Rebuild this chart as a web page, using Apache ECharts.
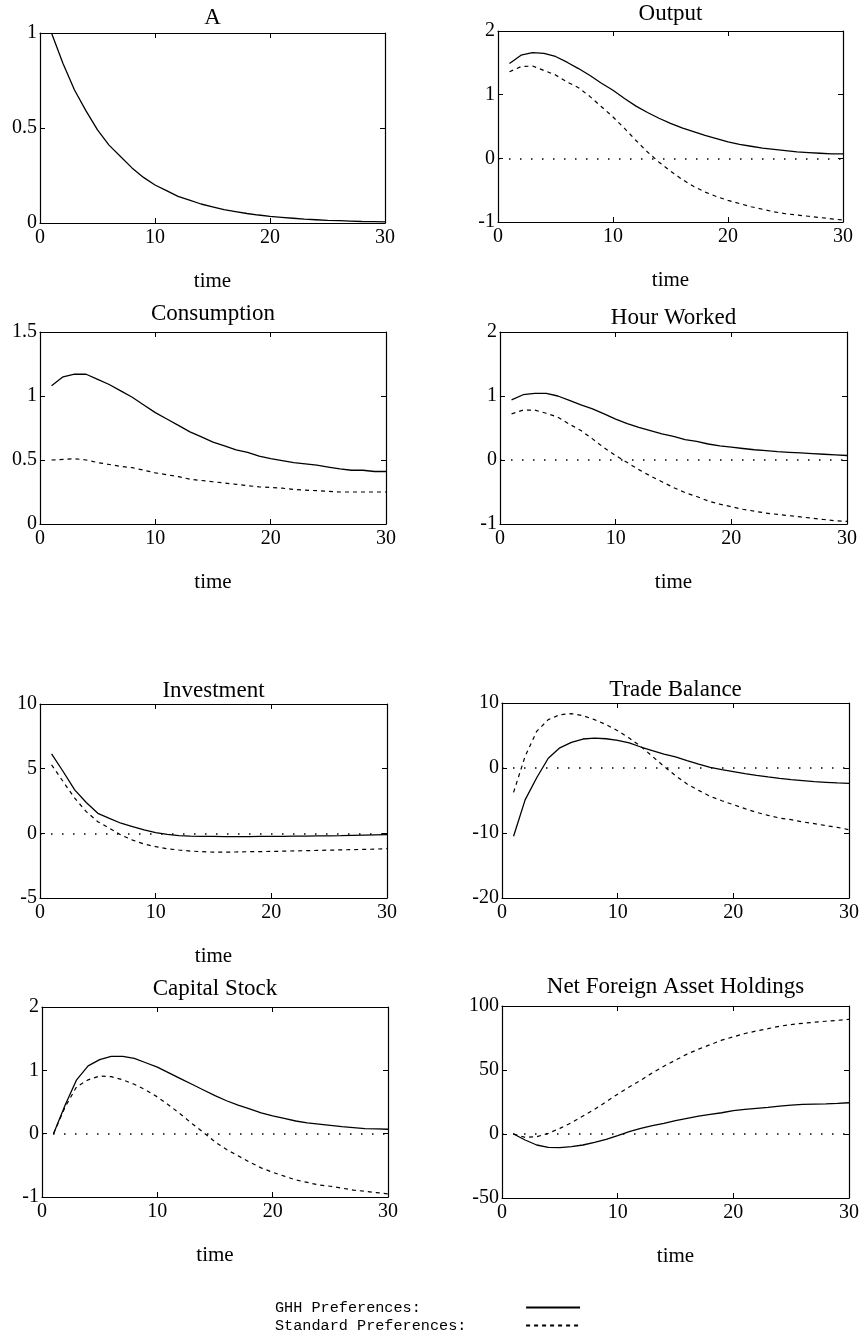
<!DOCTYPE html>
<html>
<head>
<meta charset="utf-8">
<script src="https://cdn.jsdelivr.net/npm/echarts@6/dist/echarts.min.js"></script>
<style>
  html, body { margin: 0; background: #fff; }
  #chart { width: 865px; height: 1340px; }
</style>
</head>
<body>
<div id="chart"></div>
<script>
// time periods 1..30
var times = [1, 2, 3, 4, 5, 6, 7, 8, 9, 10, 11, 12, 13, 14, 15, 16, 17, 18, 19, 20, 21, 22, 23, 24, 25, 26, 27, 28, 29, 30];

var aGhh = [1.00, 0.84, 0.70, 0.59, 0.49, 0.41, 0.35, 0.29, 0.24, 0.20, 0.17, 0.14, 0.12, 0.10, 0.085, 0.07, 0.06, 0.05, 0.042, 0.035, 0.03, 0.025, 0.02, 0.017, 0.014, 0.012, 0.01, 0.008, 0.007, 0.006];

var outputGhh = [1.49, 1.62, 1.66, 1.65, 1.60, 1.51, 1.41, 1.30, 1.18, 1.07, 0.94, 0.82, 0.72, 0.63, 0.55, 0.48, 0.42, 0.36, 0.31, 0.26, 0.22, 0.19, 0.16, 0.14, 0.12, 0.10, 0.09, 0.08, 0.07, 0.07];
var outputStd = [1.36, 1.44, 1.45, 1.38, 1.31, 1.20, 1.11, 0.97, 0.81, 0.65, 0.47, 0.28, 0.10, -0.06, -0.20, -0.33, -0.44, -0.53, -0.60, -0.66, -0.71, -0.76, -0.80, -0.84, -0.87, -0.89, -0.91, -0.93, -0.95, -0.97];

var consGhh = [1.08, 1.15, 1.17, 1.17, 1.13, 1.09, 1.04, 0.99, 0.93, 0.87, 0.82, 0.77, 0.72, 0.68, 0.64, 0.61, 0.58, 0.56, 0.53, 0.51, 0.495, 0.48, 0.47, 0.46, 0.445, 0.43, 0.42, 0.42, 0.41, 0.41];
var consStd = [0.50, 0.505, 0.51, 0.50, 0.48, 0.465, 0.45, 0.44, 0.42, 0.40, 0.385, 0.37, 0.35, 0.34, 0.33, 0.32, 0.31, 0.30, 0.29, 0.285, 0.28, 0.27, 0.265, 0.26, 0.255, 0.25, 0.25, 0.25, 0.25, 0.25];

var hoursGhh = [0.94, 1.02, 1.04, 1.04, 1.00, 0.93, 0.86, 0.80, 0.72, 0.64, 0.57, 0.51, 0.46, 0.41, 0.37, 0.32, 0.29, 0.25, 0.22, 0.20, 0.18, 0.16, 0.145, 0.13, 0.12, 0.11, 0.10, 0.09, 0.08, 0.07];
var hoursStd = [0.72, 0.78, 0.78, 0.73, 0.67, 0.56, 0.46, 0.33, 0.19, 0.07, -0.04, -0.15, -0.25, -0.34, -0.43, -0.51, -0.57, -0.64, -0.69, -0.73, -0.77, -0.80, -0.83, -0.85, -0.87, -0.89, -0.91, -0.93, -0.95, -0.96];

var invGhh = [6.15, 4.78, 3.36, 2.38, 1.55, 1.16, 0.78, 0.52, 0.26, 0.05, -0.08, -0.18, -0.21, -0.23, -0.24, -0.25, -0.25, -0.25, -0.24, -0.24, -0.23, -0.22, -0.21, -0.20, -0.19, -0.18, -0.16, -0.14, -0.12, -0.10];
var invStd = [5.3, 4.0, 2.72, 1.68, 0.9, 0.39, -0.13, -0.52, -0.83, -1.03, -1.19, -1.29, -1.37, -1.42, -1.45, -1.45, -1.44, -1.42, -1.41, -1.40, -1.38, -1.36, -1.34, -1.32, -1.30, -1.28, -1.26, -1.24, -1.22, -1.19];

var tradeGhh = [-10.5, -4.9, -1.5, 1.5, 3.1, 3.95, 4.46, 4.6, 4.5, 4.26, 3.85, 3.23, 2.67, 2.15, 1.7, 1.13, 0.6, 0.1, -0.26, -0.56, -0.87, -1.13, -1.38, -1.6, -1.8, -1.95, -2.1, -2.2, -2.3, -2.36];
var tradeStd = [-3.74, 1.8, 5.64, 7.44, 8.2, 8.36, 8.05, 7.44, 6.67, 5.74, 4.6, 3.33, 1.8, 0.26, -1.18, -2.46, -3.44, -4.36, -5.03, -5.64, -6.26, -6.82, -7.28, -7.7, -7.95, -8.3, -8.56, -8.87, -9.13, -9.49];

var capGhh = [0, 0.45, 0.85, 1.07, 1.17, 1.22, 1.22, 1.19, 1.12, 1.05, 0.96, 0.87, 0.78, 0.69, 0.6, 0.52, 0.45, 0.39, 0.33, 0.28, 0.24, 0.2, 0.17, 0.15, 0.13, 0.11, 0.095, 0.08, 0.075, 0.07];
var capStd = [0, 0.42, 0.74, 0.85, 0.91, 0.9, 0.85, 0.78, 0.69, 0.58, 0.45, 0.31, 0.16, 0.02, -0.13, -0.25, -0.35, -0.45, -0.54, -0.61, -0.67, -0.73, -0.77, -0.81, -0.83, -0.86, -0.89, -0.91, -0.93, -0.95];

var nfaGhh = [0, -4.7, -8.6, -10.4, -10.6, -9.9, -8.6, -6.5, -4.2, -1.3, 1.8, 4.4, 6.5, 8.3, 10.4, 12.2, 14, 15.3, 16.6, 18.2, 19.2, 20, 20.8, 21.8, 22.6, 23.1, 23.4, 23.6, 23.9, 24.4];
var nfaStd = [0, -2.6, -2.1, 0.5, 4.4, 8.8, 14, 19.2, 25.2, 31.1, 36.8, 42, 47.8, 53, 57.7, 62.4, 66.3, 69.8, 73.3, 75.9, 78.5, 80.5, 82.3, 84.2, 85.5, 86.5, 87.3, 88.1, 88.8, 89.6];

var seriesNames = ['GHH Preferences', 'Standard Preferences'];

// one entry per small plot: title, lines, y range, box [left, top, width, height], gap of title baseline above box
var panels = [
  { title: 'A', ghh: aGhh, std: null, min: 0, max: 1, step: 0.5, zero: false, time: true, box: [40, 33, 345, 190], tgap: 8 },
  { title: 'Output', ghh: outputGhh, std: outputStd, min: -1, max: 2, step: 1, zero: true, time: true, box: [498, 31, 345, 191], tgap: 10 },
  { title: 'Consumption', ghh: consGhh, std: consStd, min: 0, max: 1.5, step: 0.5, zero: false, time: true, box: [40, 332, 346, 192], tgap: 11 },
  { title: 'Hour Worked', ghh: hoursGhh, std: hoursStd, min: -1, max: 2, step: 1, zero: true, time: true, box: [500, 332, 347, 192], tgap: 7 },
  { title: 'Investment', ghh: invGhh, std: invStd, min: -5, max: 10, step: 5, zero: true, time: true, box: [40, 704, 347, 194], tgap: 6 },
  { title: 'Trade Balance', ghh: tradeGhh, std: tradeStd, min: -20, max: 10, step: 10, zero: true, time: false, box: [502, 703, 347, 195], tgap: 6 },
  { title: 'Capital Stock', ghh: capGhh, std: capStd, min: -1, max: 2, step: 1, zero: true, time: true, box: [42, 1007, 346, 190], tgap: 11 },
  { title: 'Net Foreign Asset Holdings', ghh: nfaGhh, std: nfaStd, min: -50, max: 100, step: 50, zero: true, time: true, box: [502, 1006, 347, 192], tgap: 12 }
];

var serif = 'Liberation Serif';
var ink = '#000';
var axisLine = { show: true, onZero: false, lineStyle: { color: ink, width: 1.2 } };
var axisTick = { show: true, inside: true, length: 5, lineStyle: { color: ink, width: 1 } };

function pairs(vals) {
  return times.map(function (t, k) { return [t, vals[k]]; });
}

var grids = [], xAxes = [], yAxes = [], titles = [], series = [];

panels.forEach(function (p, i) {
  grids.push({ left: p.box[0], top: p.box[1], width: p.box[2], height: p.box[3] });
  titles.push({
    text: p.title,
    left: p.box[0] + p.box[2] / 2,
    top: p.box[1] - p.tgap - 19,
    padding: 0,
    textAlign: 'center',
    textStyle: { fontFamily: serif, fontSize: 23, fontWeight: 'normal', color: ink }
  });
  xAxes.push({
    gridIndex: i, type: 'value', min: 0, max: 30, interval: 10, position: 'bottom',
    axisLine: axisLine, axisTick: axisTick, splitLine: { show: false },
    axisLabel: { fontFamily: serif, fontSize: 20, color: ink, margin: 5 },
    name: p.time ? 'time' : '', nameLocation: 'middle', nameGap: 48,
    nameTextStyle: { fontFamily: serif, fontSize: 21, color: ink }
  });
  xAxes.push({
    gridIndex: i, type: 'value', min: 0, max: 30, interval: 10, position: 'top',
    axisLine: axisLine, axisTick: axisTick, splitLine: { show: false }, axisLabel: { show: false }
  });
  yAxes.push({
    gridIndex: i, type: 'value', min: p.min, max: p.max, interval: p.step, position: 'left',
    axisLine: axisLine, axisTick: axisTick, splitLine: { show: false },
    axisLabel: { fontFamily: serif, fontSize: 20, color: ink, margin: 3 }
  });
  yAxes.push({
    gridIndex: i, type: 'value', min: p.min, max: p.max, interval: p.step, position: 'right',
    axisLine: axisLine, axisTick: axisTick, splitLine: { show: false }, axisLabel: { show: false }
  });

  var ghhLine = {
    name: seriesNames[0], type: 'line', xAxisIndex: 2 * i, yAxisIndex: 2 * i,
    data: pairs(p.ghh), symbol: 'none', silent: true, animation: false,
    lineStyle: { color: ink, width: 1.3, type: 'solid' }, itemStyle: { color: ink }
  };
  if (p.zero) {
    ghhLine.markLine = {
      silent: true, symbol: ['none', 'none'], label: { show: false }, animation: false,
      lineStyle: { color: ink, width: 1.5, type: [1.5, 9.5] },
      data: [{ yAxis: 0 }]
    };
  }
  series.push(ghhLine);
  if (p.std) {
    series.push({
      name: seriesNames[1], type: 'line', xAxisIndex: 2 * i, yAxisIndex: 2 * i,
      data: pairs(p.std), symbol: 'none', silent: true, animation: false,
      lineStyle: { color: ink, width: 1.2, type: [4, 4] }, itemStyle: { color: ink }
    });
  }
});

var chart = echarts.init(document.getElementById('chart'), null, { renderer: 'canvas' });
chart.setOption({
  backgroundColor: '#fff',
  animation: false,
  title: titles,
  grid: grids,
  xAxis: xAxes,
  yAxis: yAxes,
  legend: {
    data: seriesNames,
    orient: 'vertical',
    left: 270,
    top: 1295,
    align: 'right',
    itemWidth: 54,
    itemHeight: 14,
    itemGap: 3,
    selectedMode: false,
    itemStyle: { opacity: 0, borderWidth: 0 },
    formatter: function (name) {
      var s = name + ':';
      while (s.length < 27) s += ' ';
      return s;
    },
    textStyle: { fontFamily: 'Liberation Mono', fontSize: 15.2, color: ink }
  },
  series: series
});
</script>
</body>
</html>
